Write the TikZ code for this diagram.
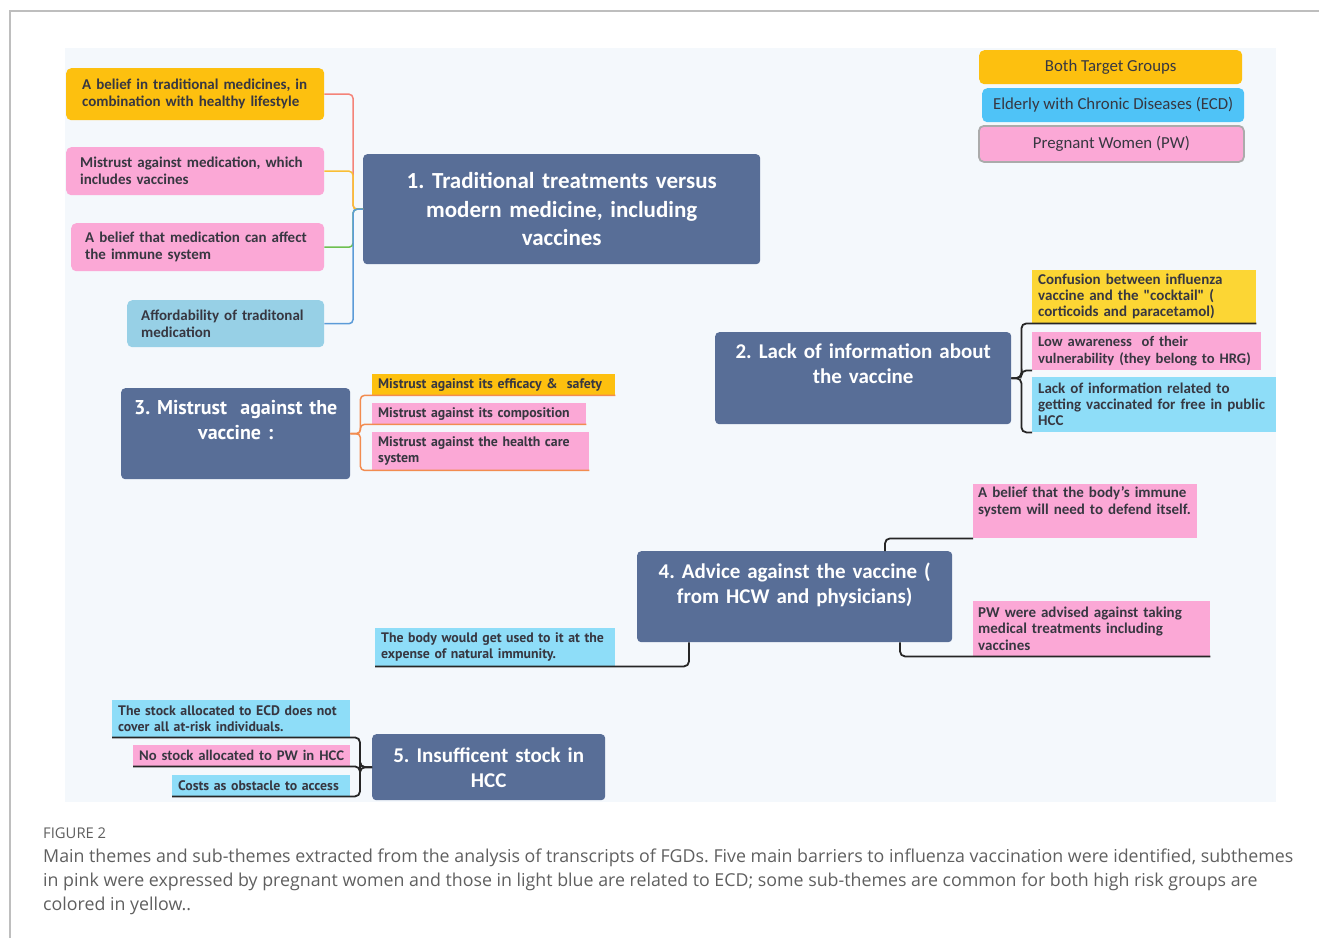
\documentclass[tikz,border=0pt]{standalone}
\usepackage{fontspec}
\setmainfont{Open Sans}
\newfontfamily\carl{Carlito}
\newfontfamily\pts{PT Sans}
\usetikzlibrary{calc}
\frenchspacing
\definecolor{themec}{RGB}{88,110,151}
\definecolor{yelc}{RGB}{253,192,15}
\definecolor{lemonc}{RGB}{252,214,52}
\definecolor{ecdc}{RGB}{79,195,247}
\definecolor{ecdtwoc}{RGB}{142,221,248}
\definecolor{affc}{RGB}{151,208,230}
\definecolor{pinkc}{RGB}{251,168,214}
\definecolor{txtc}{RGB}{55,55,65}
\definecolor{bgc}{RGB}{244,248,252}
\definecolor{capc}{RGB}{95,95,95}
\definecolor{framec}{RGB}{190,190,190}
\definecolor{redc}{RGB}{244,131,120}
\definecolor{orc}{RGB}{249,190,53}
\definecolor{grc}{RGB}{110,192,80}
\definecolor{blc}{RGB}{91,155,216}
\definecolor{orangec}{RGB}{242,140,80}
\newcommand{\fThemeA}{\frenchspacing\carl\bfseries\fontsize{23}{28.5}\selectfont}
\newcommand{\fThemeB}{\frenchspacing\carl\bfseries\fontsize{21}{25}\selectfont}
\newcommand{\fThemeC}{\frenchspacing\pts\bfseries\fontsize{20}{25}\selectfont}
\newcommand{\fSubA}{\frenchspacing\carl\bfseries\fontsize{15}{17}\selectfont}
\newcommand{\fSubB}{\frenchspacing\carl\bfseries\fontsize{15}{16}\selectfont}
\newcommand{\fSubC}{\frenchspacing\pts\bfseries\fontsize{13.8}{16.5}\selectfont}
\newcommand{\fLeg}{\frenchspacing\carl\fontsize{16.8}{18}\selectfont}
\begin{document}
\begin{tikzpicture}[x=1pt,y=-1pt,
  theme/.style={fill=themec, rounded corners=4pt, anchor=north west, text=white, align=center, inner sep=0pt},
  subA/.style={anchor=north west, rounded corners=5pt, align=left, text=txtc, inner ysep=0pt, font=\fSubA},
  subB/.style={anchor=north west, align=left, text=txtc, inner ysep=0pt, inner xsep=6pt, font=\fSubB},
  subC/.style={anchor=north west, align=left, text=txtc, inner ysep=0pt, inner xsep=6pt, font=\fSubC},
  legend/.style={anchor=north west, rounded corners=5pt, align=center, text=txtc, font=\fLeg, inner sep=0pt},
  conn/.style={line width=1.5pt, rounded corners=4pt},
  bconn/.style={line width=1.8pt, rounded corners=5pt, black!85}]
\useasboundingbox (0,0) rectangle (1319,938);
\draw[framec, line width=1.2pt] (10,938) -- (10,11) -- (1319,11);
\fill[bgc] (65,48) rectangle (1276,802);

% legend
\node[legend, fill=yelc, minimum width=263, minimum height=34] (lg1) at (979,50) {Both Target Groups};
\node[legend, fill=ecdc, minimum width=262, minimum height=34] (lg2) at (982,88) {Elderly with Chronic Diseases (ECD)};
\node[legend, fill=pinkc, draw=framec!90!black, line width=1.8pt, minimum width=265, minimum height=36] (lg3) at (978,125) {Pregnant Women (PW)};

% themes
\node[theme, minimum width=397, minimum height=110, text width=397, font=\fThemeA] (t1) at (363,154) {1. Traditional treatments versus\\modern medicine, including\\vaccines};
\node[theme, text width=296, text height=26.6pt, text depth=65.4pt, font=\fThemeB] (t2) at (715,332) {2. Lack of information about\\the vaccine};
\node[theme, text width=229, text height=26.6pt, text depth=64.4pt, font=\fThemeC] (t3) at (121,388) {3. Mistrust\ \ against the\\vaccine :};
\node[theme, text width=315, text height=27.3pt, text depth=63.7pt, font=\fThemeB] (t4) at (637,551) {4. Advice against the vaccine (\\from HCW and physicians)};
\node[theme, text width=233, minimum height=66, font=\fThemeB] (t5) at (372,734) {5. Insufficent stock in\\HCC};

% theme 1 subthemes
\node[subA, fill=yelc, text width=226, inner xsep=16pt, minimum height=52] (s1a) at (66,68) {A belief in traditional medicines, in\\combination with healthy lifestyle};
\node[subA, fill=pinkc, text width=230, inner xsep=14pt, minimum height=48] (s1b) at (66,147) {Mistrust against medication, which\\includes vaccines};
\node[subA, fill=pinkc, text width=225, inner xsep=14pt, minimum height=48] (s1c) at (71,223) {A belief that medication can affect\\the immune system};
\node[subA, fill=affc, text width=169, inner xsep=14pt, minimum height=47] (s1d) at (127,300) {Affordability of traditonal\\medication};

% theme 2 subthemes
\node[subB, fill=lemonc, text width=212, minimum height=53] (s2a) at (1032,270) {Confusion between influenza\\vaccine and the "cocktail" (\\corticoids and paracetamol)};
\node[subB, fill=pinkc, text width=221, inner xsep=4pt, minimum height=38, font=\frenchspacing\carl\bfseries\fontsize{14.6}{16.5}\selectfont] (s2b) at (1032,332) {\hspace*{2pt}Low awareness\ \ of their\\\hspace*{2pt}vulnerability (they belong to HRG)};
\node[subB, fill=ecdtwoc, text width=232, minimum height=55] (s2c) at (1032,377) {Lack of information related to\\getting vaccinated for free in public\\HCC};

% theme 3 subthemes
\node[subC, fill=yelc, text width=231, minimum height=21] (s3a) at (372,374) {Mistrust against its efficacy \&\ \ safety};
\node[subC, fill=pinkc, text width=202, minimum height=21] (s3b) at (372,403) {Mistrust against its composition};
\node[subC, fill=pinkc, text width=205, minimum height=38] (s3c) at (372,432) {Mistrust against the health care\\system};

% theme 4 subthemes
\node[subB, fill=pinkc, inner xsep=5pt, text width=214, text height=13.5pt, text depth=40.5pt, font=\frenchspacing\carl\bfseries\fontsize{15}{17}\selectfont] (s4a) at (973,484) {A belief that the body’s immune\\system will need to defend itself.};
\node[subB, fill=pinkc, inner xsep=5pt, text width=227, minimum height=55, font=\frenchspacing\carl\bfseries\fontsize{15}{16.5}\selectfont] (s4b) at (973,601) {PW were advised against taking\\medical treatments including\\vaccines};
\node[subC, fill=ecdtwoc, text width=230, inner xsep=5pt, minimum height=38] (s4c) at (375,628) {\hspace*{1pt}The body would get used to it at the\\\hspace*{1pt}expense of natural immunity.};

% theme 5 subthemes
\node[subC, fill=ecdtwoc, text width=226, minimum height=37] (s5a) at (112,700) {The stock allocated to ECD does not\\cover all at-risk individuals.};
\node[subB, fill=pinkc, text width=209, inner xsep=4pt, minimum height=21, font=\frenchspacing\carl\bfseries\fontsize{14.7}{16}\selectfont] (s5b) at (133,745) {\hspace*{2pt}No stock allocated to PW in HCC};
\node[subC, fill=ecdtwoc, text width=166, minimum height=21] (s5c) at (172,775) {Costs as obstacle to access};

% connectors theme 1
\draw[conn, redc] (t1.west) -- ++(-10,0) |- (s1a.east);
\draw[conn, orc] (t1.west) -- ++(-10,0) |- (s1b.east);
\draw[conn, grc] (t1.west) -- ++(-10,0) |- (s1c.east);
\draw[conn, blc] (t1.west) -- ++(-10,0) |- (s1d.east);

% connectors theme 2
\draw[bconn] (t2.east) -- ++(10,0) |- (s2a.south east);
\draw[bconn] (t2.east) -- ++(10,0) |- (s2b.south west);
\draw[bconn] (t2.east) -- ++(10,0) |- (s2c.south west);

% connectors theme 3
\draw[conn, orangec] (t3.east) -- ++(10,0) |- (s3a.south east);
\draw[conn, orangec] (t3.east) -- ++(10,0) |- (s3b.south east);
\draw[conn, orangec] (t3.east) -- ++(10,0) |- (s3c.south east);

% connectors theme 4
\draw[bconn] ([xshift=248pt]t4.north west) |- (s4a.south west);
\draw[bconn] ([xshift=263pt]t4.south west) |- (s4b.south east);
\draw[bconn] ([xshift=52pt]t4.south west) |- (s4c.south west);

% connectors theme 5
\draw[bconn] (t5.west) -- ++(-12,0) |- (s5a.south west);
\draw[bconn] (t5.west) -- ++(-12,0) |- (s5b.south west);
\draw[bconn] (t5.west) -- ++(-12,0) |- (s5c.south west);

% caption
\node[anchor=base west, inner sep=0pt, text=capc, font=\fontsize{14.8}{16}\selectfont] (fig) at (43,838) {FIGURE 2};
\node[anchor=north west, inner sep=0pt, text=capc, align=left, font=\fontsize{17.8}{24}\selectfont] (cap) at (43,849) {Main themes and sub-themes extracted from the analysis of transcripts of FGDs. Five main barriers to influenza vaccination were identified, subthemes\\in pink were expressed by pregnant women and those in light blue are related to ECD; some sub-themes are common for both high risk groups are\\colored in yellow..};
\end{tikzpicture}
\end{document}
